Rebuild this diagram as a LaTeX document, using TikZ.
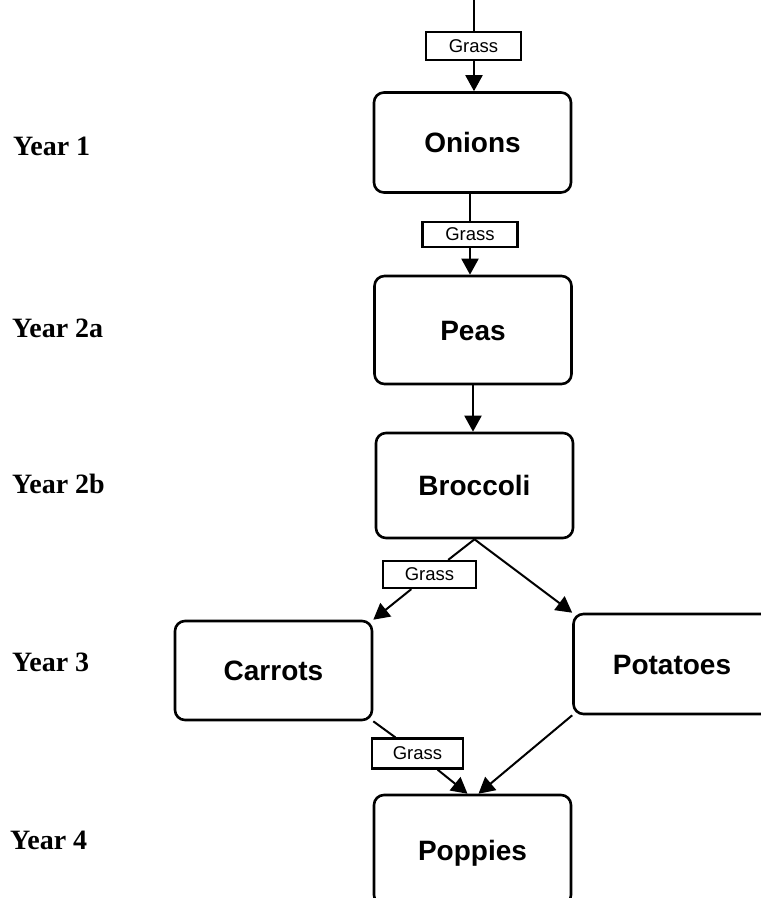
\documentclass[tikz,border=0pt]{standalone}
\usepackage{fontspec}
\setmainfont{Liberation Serif}
\newfontfamily\arialfont{Liberation Sans}
\usetikzlibrary{arrows.meta}
\begin{document}
\begin{tikzpicture}[x=1pt,y=-1pt,
  crop/.style={draw, line width=2.6pt, rounded corners=10pt, minimum width=197pt, minimum height=100pt,
    font=\arialfont\bfseries\fontsize{28}{30}\selectfont, text height=20pt, text depth=0pt, inner sep=0pt},
  grass/.style={draw, fill=white, line width=2.2pt, font=\arialfont\fontsize{18.5}{20}\selectfont,
    minimum width=95pt, minimum height=27pt, inner sep=0pt},
  year/.style={anchor=base west, font=\bfseries\fontsize{28}{30}\selectfont, inner sep=0pt},
  link/.style={line width=2pt},
  arr/.style={line width=2pt, -{Triangle[length=16pt,width=17pt]}}
]
\clip (0,0) rectangle (761,898);
% crop boxes
\node[crop] (on) at (472.5,142.5) {Onions};
\node[crop, minimum height=108pt] (peas) at (473,330) {Peas};
\node[crop, minimum height=105pt] (broc) at (474.5,485.5) {Broccoli};
\node[crop, minimum height=99pt] (car) at (273.5,670.5) {Carrots};
\node[crop] (pot) at (672,664) {Potatoes};
\node[crop, minimum height=110pt] (pop) at (472.5,850) {Poppies};
% grass labels
\node[grass, minimum height=28pt] (g1) at (473.5,46) {Grass};
\node[grass, minimum height=25pt] (g2) at (470,234.5) {Grass};
\node[grass, minimum width=93pt] (g3) at (429.5,574.5) {Grass};
\node[grass, minimum width=91pt, minimum height=30pt] (g4) at (417.5,753.5) {Grass};
% connectors
\coordinate (top) at (474,0);
\draw[link] (top) -- (top |- g1.north);
\draw[arr] (top |- g1.south) -- (top |- on.north);
\draw[link] (g2 |- on.south) -- (g2.north);
\draw[arr] (g2.south) -- (g2 |- peas.north);
\draw[arr] (peas.south) -- (peas.south |- broc.north);
\draw[link] (broc.south) -- (g3);
\draw[arr] (g3) -- (car.north east);
\draw[arr] (broc.south) -- (pot.north west);
\draw[link] (car.south east) -- (g4);
\draw[arr] (g4) -- ([xshift=-5pt]pop.north);
\draw[arr] (pot.south west) -- ([xshift=6pt]pop.north);
% year labels
\node[year] (y1) at (13,155) {Year 1};
\node[year] (y2a) at (12,337) {Year 2a};
\node[year] (y2b) at (12,493) {Year 2b};
\node[year] (y3) at (12,671) {Year 3};
\node[year] (y4) at (10,849) {Year 4};
\end{tikzpicture}
\end{document}
